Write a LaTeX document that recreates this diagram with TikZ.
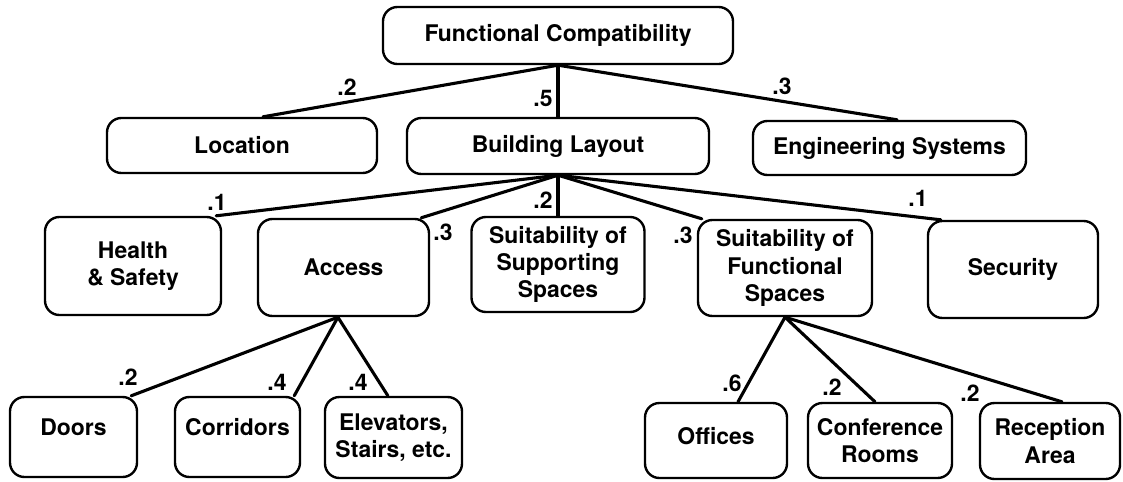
\documentclass[tikz,border=0pt]{standalone}
\usepackage{fontspec}
\setmainfont{TeX Gyre Heros}
\tikzset{
    boxsize/.style 2 args={minimum width=#1*0.025cm, minimum height=#2*0.025cm},
    node box/.style={draw, line width=1.7pt, rounded corners=0.36cm, align=center,
        inner sep=0pt, font=\bfseries\fontsize{16.3}{19.5}\selectfont},
    weight/.style={inner sep=0pt, font=\bfseries\fontsize{16.3}{19.5}\selectfont},
}

\begin{document}
\begin{tikzpicture}[x=0.025cm, y=-0.025cm,
        link/.style={line width=2.2pt, line cap=round, line join=round},
    ]
    \useasboundingbox (0,0) rectangle (1123,481);
    % goal
    \node[node box, boxsize={350}{57}] (fc) at (558,35.5) {Functional Compatibility};
    % criteria
    \node[node box, boxsize={270}{55}] (loc) at (242,145.5) {Location};
    \node[node box, boxsize={302}{56}] (bl) at (558,146) {Building Layout};
    \node[node box, boxsize={273}{54}] (eng) at (889.5,148) {Engineering Systems};
    % sub-criteria of building layout
    \node[node box, boxsize={176}{98}] (hs) at (133,266) {Health\\\& Safety};
    \node[node box, boxsize={171}{97}] (acc) at (343.5,267.5) {Access};
    \node[node box, boxsize={173}{95}] (supp) at (558,264.5) {Suitability of\\Supporting\\Spaces};
    \node[node box, boxsize={174}{96}] (func) at (785,268) {Suitability of\\Functional\\Spaces};
    \node[node box, boxsize={170}{97}] (sec) at (1013,269.5) {Security};
    % leaves
    \node[node box, boxsize={127}{80}, text depth=0.5cm] (door) at (73.5,437) {Doors};
    \node[node box, boxsize={125}{80}, text depth=0.5cm] (corr) at (237.5,437) {Corridors};
    \node[node box, boxsize={137}{81}] (elev) at (393.5,437.5) {Elevators,\\Stairs, etc.};
    \node[node box, boxsize={142}{75}, text depth=0.25cm] (off) at (716,440.5) {Offices};
    \node[node box, boxsize={144}{75}] (conf) at (880,440.5) {Conference\\Rooms};
    \node[node box, boxsize={140}{76}] (rec) at (1050,441) {Reception\\Area};

    % links
    \draw[link] (fc.south) -- ([xshift=0.525cm]loc.north);
    \draw[link] (fc.south) -- (bl.north);
    \draw[link] (fc.south) -- ([xshift=0.19cm]eng.north);
    \draw[link] (bl.south) -- ([xshift=-0.15cm]hs.north east);
    \draw[link] (bl.south) -- ([xshift=-0.225cm]acc.north east);
    \draw[link] (bl.south) -- (supp.north);
    \draw[link] (bl.south) -- ([xshift=0.125cm]func.north west);
    \draw[link] (bl.south) -- ([xshift=0.35cm]sec.north west);
    \draw[link] ([xshift=-0.14cm]acc.south) -- ([xshift=-0.175cm]door.north east);
    \draw[link] ([xshift=-0.14cm]acc.south) -- ([xshift=-0.175cm]corr.north east);
    \draw[link] ([xshift=-0.14cm]acc.south) -- ([xshift=-0.14cm]elev.north);
    \draw[link] (func.south) -- ([xshift=0.55cm]off.north);
    \draw[link] (func.south) -- ([xshift=-0.125cm]conf.north);
    \draw[link] (func.south) -- ([xshift=0.3cm]rec.north);

    % weights
    \node[weight] (wloc) at (347,87) {.2};
    \node[weight] (wbl) at (543,98) {.5};
    \node[weight] (weng) at (782,86) {.3};
    \node[weight] (whs) at (217,202) {.1};
    \node[weight] (wacc) at (443,232) {.3};
    \node[weight] (wsupp) at (543,200) {.2};
    \node[weight] (wfunc) at (683,235) {.3};
    \node[weight] (wsec) at (918,198) {.1};
    \node[weight] (wdoor) at (128,377) {.2};
    \node[weight] (wcorr) at (277,382) {.4};
    \node[weight] (welev) at (358,382) {.4};
    \node[weight] (woff) at (732,383) {.6};
    \node[weight] (wconf) at (832,387) {.2};
    \node[weight] (wrec) at (970,393) {.2};
\end{tikzpicture}
\end{document}
